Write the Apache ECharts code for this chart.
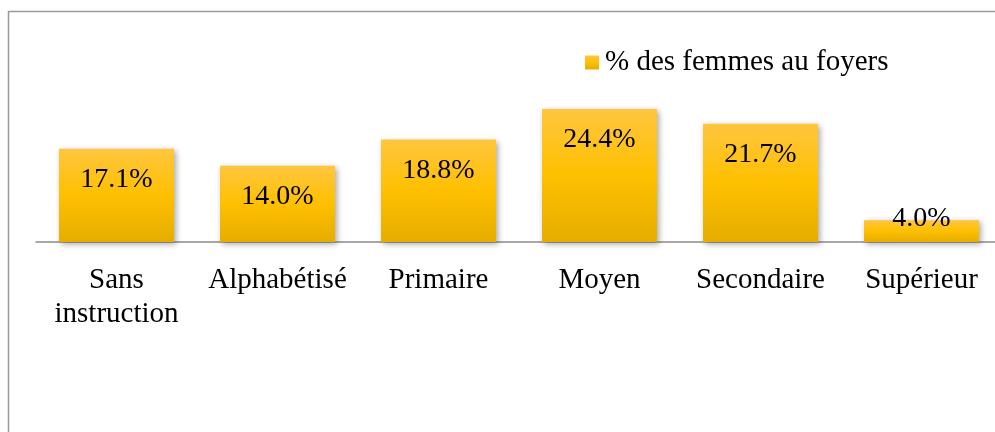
<!DOCTYPE html>
<html>
<head>
<meta charset="utf-8">
<script src="https://cdn.jsdelivr.net/npm/echarts@6/dist/echarts.min.js"></script>
<style>
html,body{margin:0;padding:0;background:#fff;}
#c{width:995px;height:432px;}
</style>
</head>
<body>
<div id="c"></div>
<script>
var categories = ['Sans\ninstruction', 'Alphabétisé', 'Primaire', 'Moyen', 'Secondaire', 'Supérieur'];
var values = [17.1, 14.0, 18.8, 24.4, 21.7, 4.0];
var seriesName = '% des femmes au foyers';

var FONT = '"Liberation Serif", "Times New Roman", serif';
var barGrad = new echarts.graphic.LinearGradient(0, 0, 0, 1, [
  {offset: 0, color: '#FFC63F'},
  {offset: 0.5, color: '#FFC000'},
  {offset: 1, color: '#E5AD00'}
]);

var data = values.map(function (v, i) {
  var item = {value: v};
  if (v < 8) {
    item.label = {position: 'top', distance: -12};
  }
  return item;
});

var chart = echarts.init(document.getElementById('c'), null, {renderer: 'canvas'});
chart.setOption({
  animation: false,
  backgroundColor: '#fff',
  graphic: [{
    type: 'rect',
    shape: {x: 8.5, y: 11.5, width: 1000, height: 440},
    style: {fill: 'none', stroke: '#9a9a9a', lineWidth: 1.5},
    silent: true,
    z: -1
  }],
  legend: {
    left: 580,
    top: 43,
    itemWidth: 14,
    itemHeight: 14,
    icon: 'rect',
    data: [{name: seriesName, itemStyle: {color: barGrad}}],
    textStyle: {fontFamily: FONT, fontSize: 29, color: '#000', padding: [0, 0, 0, 1]}
  },
  grid: {left: 36, width: 966, top: 78.5, bottom: 190, containLabel: false, outerBoundsMode: 'none'},
  xAxis: {
    type: 'category',
    data: categories,
    axisLine: {show: true, lineStyle: {color: '#8c8c8c', width: 1.5}},
    axisTick: {show: false},
    axisLabel: {
      margin: 21,
      fontFamily: FONT,
      fontSize: 29,
      color: '#000',
      lineHeight: 34,
      interval: 0
    }
  },
  yAxis: {
    type: 'value',
    min: 0,
    max: 30,
    show: false,
    splitLine: {show: false}
  },
  series: [{
    name: seriesName,
    type: 'bar',
    data: data,
    barWidth: 115,
    itemStyle: {
      color: barGrad,
      shadowBlur: 6,
      shadowColor: 'rgba(0,0,0,0.35)',
      shadowOffsetX: 2,
      shadowOffsetY: 2
    },
    label: {
      show: true,
      position: 'insideTop',
      distance: 17,
      fontFamily: FONT,
      fontSize: 28,
      color: '#000',
      formatter: function (p) { return p.value.toFixed(1) + '%'; }
    }
  }]
});
</script>
</body>
</html>
